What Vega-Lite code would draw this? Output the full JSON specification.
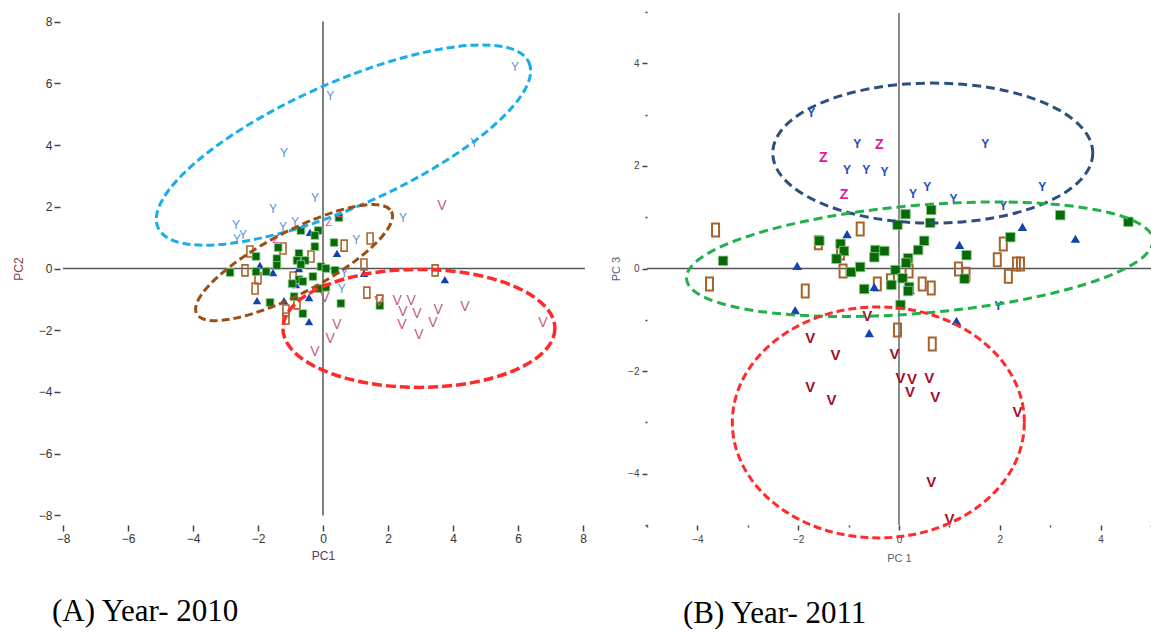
{
  "$schema": "https://vega.github.io/schema/vega-lite/v6.json",
  "padding": {"left": 12, "top": 7, "right": 0, "bottom": 0},
  "spacing": 23,
  "config": {
    "view": {"stroke": null},
    "font": "Liberation Sans",
    "axis": {"grid": false, "domain": false, "labelFont": "Liberation Sans", "titleFont": "Liberation Sans", "titleFontWeight": "normal", "labelFlush": false, "labelOverlap": false}
  },
  "datasets": {
    "aRuleV": [{"x": 0, "y": -8, "y2": 8}],
    "aRuleH": [{"y": 0, "x": -8, "x2": 8.06}],
    "aY": [{"x":5.91,"y":6.54},{"x":0.22,"y":5.60},{"x":4.65,"y":4.08},{"x":-1.20,"y":3.75},{"x":-0.25,"y":2.30},{"x":-1.54,"y":1.94},{"x":2.46,"y":1.65},{"x":-0.86,"y":1.52},{"x":-2.68,"y":1.42},{"x":-1.23,"y":1.36},{"x":-2.46,"y":1.10},{"x":-2.65,"y":0.94},{"x":1.02,"y":0.91},{"x":0.65,"y":-0.13},{"x":0.58,"y":-0.65}],
    "aV": [{"x":3.66,"y":2.04},{"x":0.06,"y":-0.97},{"x":0.43,"y":-1.84},{"x":0.22,"y":-2.30},{"x":-0.25,"y":-2.72},{"x":1.72,"y":-1.10},{"x":2.28,"y":-1.04},{"x":2.71,"y":-1.04},{"x":2.46,"y":-1.42},{"x":2.89,"y":-1.49},{"x":3.54,"y":-1.36},{"x":3.38,"y":-1.75},{"x":2.43,"y":-1.84},{"x":2.95,"y":-2.17},{"x":4.37,"y":-1.26},{"x":6.77,"y":-1.78}],
    "aZ": [{"x":0.18,"y":1.49},{"x":-1.45,"y":0.91},{"x":0.52,"y":1.75}],
    "aRect": [{"x":-2.25,"y":0.55},{"x":-1.23,"y":0.65},{"x":-0.37,"y":0.39},{"x":0.65,"y":0.74},{"x":1.45,"y":0.97},{"x":-2.40,"y":-0.06},{"x":-2.00,"y":-0.32},{"x":-2.09,"y":-0.65},{"x":-0.92,"y":-0.29},{"x":1.26,"y":0.13},{"x":1.35,"y":-0.78},{"x":1.75,"y":-1.04},{"x":-1.14,"y":-1.36},{"x":-1.14,"y":-1.62},{"x":-0.80,"y":-1.13},{"x":3.45,"y":-0.06}],
    "aSq": [{"x":0.49,"y":1.65},{"x":-0.15,"y":1.23},{"x":-0.25,"y":1.07},{"x":-0.68,"y":1.23},{"x":0.34,"y":0.84},{"x":-0.25,"y":0.71},{"x":-1.38,"y":0.68},{"x":-2.06,"y":0.39},{"x":-1.42,"y":0.32},{"x":-1.42,"y":0.10},{"x":-0.74,"y":0.49},{"x":-0.80,"y":0.26},{"x":-0.55,"y":0.26},{"x":-0.68,"y":0.13},{"x":-0.06,"y":0.06},{"x":0.09,"y":0.00},{"x":0.37,"y":-0.06},{"x":-2.86,"y":-0.13},{"x":-2.06,"y":-0.10},{"x":-1.75,"y":-0.10},{"x":-0.74,"y":-0.36},{"x":-0.62,"y":-0.42},{"x":-0.31,"y":-0.26},{"x":-0.12,"y":-0.65},{"x":0.09,"y":-0.61},{"x":-0.89,"y":-0.91},{"x":-1.63,"y":-1.10},{"x":0.55,"y":-1.13},{"x":-0.62,"y":-1.46},{"x":1.75,"y":-1.20},{"x":-0.95,"y":-0.49}],
    "aTri": [{"x":-0.40,"y":1.17},{"x":0.43,"y":0.49},{"x":-1.94,"y":0.10},{"x":-1.54,"y":-0.13},{"x":-0.74,"y":0.00},{"x":-2.03,"y":-1.04},{"x":-1.20,"y":-1.04},{"x":-0.43,"y":-0.94},{"x":-0.43,"y":-1.72},{"x":1.26,"y":-0.16},{"x":3.75,"y":-0.36},{"x":-0.83,"y":-0.52}],
    "aEllCyan": [{"x": 0.63, "y": 4.0}],
    "aEllBrown": [{"x": -0.89, "y": 0.19}],
    "aEllRed": [{"x": 2.95, "y": -1.94}],
    "bRuleV": [{"x": 0, "y": -5, "y2": 4.98}],
    "bRuleH": [{"y": 0, "x": -5, "x2": 5}],
    "bY": [{"x":-1.74,"y":3.03},{"x":-0.83,"y":2.43},{"x":1.71,"y":2.43},{"x":-1.03,"y":1.92},{"x":-0.65,"y":1.92},{"x":-0.29,"y":1.88},{"x":0.28,"y":1.45},{"x":0.56,"y":1.59},{"x":1.08,"y":1.36},{"x":2.84,"y":1.59},{"x":2.07,"y":1.22},{"x":1.97,"y":-0.73}],
    "bZ": [{"x":-1.50,"y":2.15},{"x":-0.39,"y":2.41},{"x":-1.09,"y":1.43}],
    "bV": [{"x":-0.63,"y":-0.93},{"x":-1.76,"y":-1.35},{"x":-1.26,"y":-1.69},{"x":-0.09,"y":-1.67},{"x":0.03,"y":-2.13},{"x":0.26,"y":-2.15},{"x":0.60,"y":-2.13},{"x":0.22,"y":-2.41},{"x":0.72,"y":-2.50},{"x":-1.76,"y":-2.31},{"x":-1.34,"y":-2.56},{"x":2.35,"y":-2.80},{"x":0.64,"y":-4.16},{"x":1.00,"y":-4.88}],
    "bRect": [{"x":-3.64,"y":0.75},{"x":-0.77,"y":0.77},{"x":-1.60,"y":0.50},{"x":-1.16,"y":0.30},{"x":-1.11,"y":-0.05},{"x":-3.76,"y":-0.30},{"x":-1.86,"y":-0.44},{"x":-0.43,"y":-0.30},{"x":-0.17,"y":-0.24},{"x":0.20,"y":-0.05},{"x":0.46,"y":-0.30},{"x":0.64,"y":-0.38},{"x":2.07,"y":0.48},{"x":1.95,"y":0.17},{"x":2.33,"y":0.09},{"x":2.41,"y":0.09},{"x":2.17,"y":-0.15},{"x":1.18,"y":-0.01},{"x":1.33,"y":-0.11},{"x":-0.03,"y":-1.20},{"x":0.66,"y":-1.47}],
    "bSq": [{"x":-3.49,"y":0.15},{"x":-1.58,"y":0.54},{"x":-1.16,"y":0.48},{"x":-1.09,"y":0.34},{"x":-1.24,"y":0.19},{"x":-0.95,"y":-0.07},{"x":-0.77,"y":0.03},{"x":-0.47,"y":0.36},{"x":-0.29,"y":0.34},{"x":-0.49,"y":0.22},{"x":-0.69,"y":-0.40},{"x":-0.15,"y":-0.32},{"x":-0.03,"y":0.85},{"x":0.13,"y":1.06},{"x":0.64,"y":1.14},{"x":0.62,"y":0.89},{"x":0.50,"y":0.54},{"x":0.38,"y":0.36},{"x":0.18,"y":0.20},{"x":0.14,"y":0.11},{"x":-0.07,"y":-0.03},{"x":0.07,"y":-0.19},{"x":0.20,"y":-0.36},{"x":0.18,"y":-0.44},{"x":0.03,"y":-0.71},{"x":1.34,"y":0.26},{"x":2.21,"y":0.61},{"x":3.20,"y":1.04},{"x":4.55,"y":0.91},{"x":1.30,"y":-0.20}],
    "bTri": [{"x":-1.03,"y":0.67},{"x":-2.02,"y":0.05},{"x":-0.49,"y":-0.36},{"x":-2.06,"y":-0.81},{"x":-0.59,"y":-1.26},{"x":1.20,"y":0.46},{"x":2.45,"y":0.81},{"x":3.50,"y":0.58},{"x":1.14,"y":-1.02},{"x":0.22,"y":-0.42}],
    "bEllNavy": [{"x": 0.67, "y": 2.25}],
    "bEllGreen": [{"x": 0.41, "y": 0.18}],
    "bEllRed": [{"x": -0.41, "y": -3.0}]
  },
  "hconcat": [
    {
      "width": 520,
      "height": 513,
      "title": {"text": "(A) Year- 2010", "orient": "bottom", "anchor": "start", "frame": "group", "font": "Liberation Serif", "fontSize": 31, "fontWeight": "normal", "color": "#000000", "offset": 36, "dx": -11},
      "encoding": {
        "x": {"field": "x", "type": "quantitative", "scale": {"domain": [-8, 8], "nice": false, "zero": false},
              "axis": {"values": [-8,-6,-4,-2,0,2,4,6,8], "title": "PC1", "tickSize": 6, "tickColor": "#444444", "tickWidth": 1.5, "labelFontSize": 12, "labelColor": "#333333", "labelPadding": 2, "titleColor": "#5b3a55", "titleFontSize": 12, "titlePadding": 6}},
        "y": {"field": "y", "type": "quantitative", "scale": {"domain": [-8.31, 8.31], "nice": false, "zero": false},
              "axis": {"values": [-8,-6,-4,-2,0,2,4,6,8], "title": "PC2", "offset": 3, "tickSize": 6, "tickColor": "#444444", "tickWidth": 1.5, "labelFontSize": 12, "labelColor": "#333333", "labelPadding": 2, "titleColor": "#8b3a4a", "titleFontSize": 12, "titlePadding": 13}}
      },
      "layer": [
        {"data": {"name": "aRuleV"}, "mark": {"type": "rule", "stroke": "#555555", "strokeWidth": 1.5}, "encoding": {"y2": {"field": "y2"}}},
        {"data": {"name": "aRuleH"}, "mark": {"type": "rule", "stroke": "#555555", "strokeWidth": 1.5}, "encoding": {"x2": {"field": "x2"}}},
        {"data": {"name": "aRect"}, "mark": {"type": "point", "shape": "M-3,-5.5H3V5.5H-3Z", "size": 4, "filled": false, "stroke": "#a8662e", "strokeWidth": 1.6, "opacity": 1}},
        {"data": {"name": "aTri"}, "mark": {"type": "point", "shape": "triangle-up", "size": 72, "filled": true, "fill": "#1440b0", "opacity": 1}},
        {"data": {"name": "aSq"}, "mark": {"type": "point", "shape": "square", "size": 60, "filled": true, "fill": "#076a07", "stroke": "#8cc98c", "strokeWidth": 0.8, "opacity": 1}},
        {"data": {"name": "aY"}, "mark": {"type": "text", "fontSize": 12, "color": "#5b8fd9", "baseline": "middle", "align": "center"}, "encoding": {"text": {"value": "Y"}}},
        {"data": {"name": "aV"}, "mark": {"type": "text", "fontSize": 14, "color": "#c26080", "baseline": "middle", "align": "center"}, "encoding": {"text": {"value": "V"}}},
        {"data": {"name": "aZ"}, "mark": {"type": "text", "fontSize": 11, "color": "#ee44b0", "baseline": "middle", "align": "center"}, "encoding": {"text": {"value": "Z"}}},
        {"data": {"name": "aEllCyan"}, "mark": {"type": "point", "shape": "M203,0C203,34.2 112.1,62 0,62C-112.1,62 -203,34.2 -203,0C-203,-34.2 -112.1,-62 0,-62C112.1,-62 203,-34.2 203,0Z", "size": 4, "angle": -24, "filled": false, "stroke": "#19aee8", "strokeWidth": 3, "strokeDash": [8, 4], "opacity": 1}},
        {"data": {"name": "aEllBrown"}, "mark": {"type": "point", "shape": "M110,0C110,17.1 60.8,31 0,31C-60.8,31 -110,17.1 -110,0C-110,-17.1 -60.8,-31 0,-31C60.8,-31 110,-17.1 110,0Z", "size": 4, "angle": -27.7, "filled": false, "stroke": "#9a4e12", "strokeWidth": 3, "strokeDash": [8, 4], "opacity": 1}},
        {"data": {"name": "aEllRed"}, "mark": {"type": "point", "shape": "M136,0C136,32.6 75.1,59 0,59C-75.1,59 -136,32.6 -136,0C-136,-32.6 -75.1,-59 0,-59C75.1,-59 136,-32.6 136,0Z", "size": 4, "angle": 0, "filled": false, "stroke": "#ff2a2a", "strokeWidth": 3.5, "strokeDash": [10, 4], "opacity": 1}}
      ]
    },
    {
      "width": 504,
      "height": 513,
      "title": {"text": "(B) Year- 2011", "orient": "bottom", "anchor": "start", "frame": "group", "font": "Liberation Serif", "fontSize": 31, "fontWeight": "normal", "color": "#000000", "offset": 36, "dx": 36},
      "encoding": {
        "x": {"field": "x", "type": "quantitative", "scale": {"domain": [-5, 5], "nice": false, "zero": false},
              "axis": {"values": [-5,-4,-3,-2,-1,0,1,2,3,4,5], "labelExpr": "datum.value % 2 === 0 ? datum.label : ''", "title": "PC 1", "tickSize": {"condition": {"test": "datum.value % 2 === 0", "value": 5}, "value": 2}, "tickColor": "#444444", "tickWidth": 1.5, "labelFontSize": 10, "labelColor": "#444444", "labelPadding": 4, "titleColor": "#556070", "titleFontSize": 11, "titlePadding": 8}},
        "y": {"field": "y", "type": "quantitative", "scale": {"domain": [-5, 5], "nice": false, "zero": false},
              "axis": {"values": [-5,-4,-3,-2,-1,0,1,2,3,4,5], "labelExpr": "datum.value % 2 === 0 ? datum.label : ''", "title": "PC 3", "tickSize": {"condition": {"test": "datum.value % 2 === 0", "value": 5}, "value": 2}, "tickColor": "#444444", "tickWidth": 1.5, "labelFontSize": 10, "labelColor": "#444444", "labelPadding": 3, "titleColor": "#556070", "titleFontSize": 11, "titlePadding": 6}}
      },
      "layer": [
        {"data": {"name": "bRuleV"}, "mark": {"type": "rule", "stroke": "#666666", "strokeWidth": 1.5}, "encoding": {"y2": {"field": "y2"}}},
        {"data": {"name": "bRuleH"}, "mark": {"type": "rule", "stroke": "#555555", "strokeWidth": 1.5}, "encoding": {"x2": {"field": "x2"}}},
        {"data": {"name": "bRect"}, "mark": {"type": "point", "shape": "M-3.5,-6.5H3.5V6.5H-3.5Z", "size": 4, "filled": false, "stroke": "#a8622a", "strokeWidth": 2, "opacity": 1}},
        {"data": {"name": "bTri"}, "mark": {"type": "point", "shape": "triangle-up", "size": 90, "filled": true, "fill": "#1244b0", "opacity": 1}},
        {"data": {"name": "bSq"}, "mark": {"type": "point", "shape": "square", "size": 90, "filled": true, "fill": "#076a07", "stroke": "#8cc98c", "strokeWidth": 0.8, "opacity": 1}},
        {"data": {"name": "bY"}, "mark": {"type": "text", "fontSize": 12, "fontWeight": "bold", "color": "#1d4fc4", "baseline": "middle", "align": "center"}, "encoding": {"text": {"value": "Y"}}},
        {"data": {"name": "bZ"}, "mark": {"type": "text", "fontSize": 14, "fontWeight": "bold", "color": "#e0189a", "baseline": "middle", "align": "center"}, "encoding": {"text": {"value": "Z"}}},
        {"data": {"name": "bV"}, "mark": {"type": "text", "fontSize": 15, "fontWeight": "bold", "color": "#a0102e", "baseline": "middle", "align": "center"}, "encoding": {"text": {"value": "V"}}},
        {"data": {"name": "bEllNavy"}, "mark": {"type": "point", "shape": "M160,0C160,38.7 88.4,70 0,70C-88.4,70 -160,38.7 -160,0C-160,-38.7 -88.4,-70 0,-70C88.4,-70 160,-38.7 160,0Z", "size": 4, "angle": 0, "filled": false, "stroke": "#2c4f80", "strokeWidth": 3, "strokeDash": [9, 5], "opacity": 1}},
        {"data": {"name": "bEllGreen"}, "mark": {"type": "point", "shape": "M234,0C234,29.8 129.2,54 0,54C-129.2,54 -234,29.8 -234,0C-234,-29.8 -129.2,-54 0,-54C129.2,-54 234,-29.8 234,0Z", "size": 4, "angle": -4.8, "filled": false, "stroke": "#22b04a", "strokeWidth": 3, "strokeDash": [9, 5], "opacity": 1}},
        {"data": {"name": "bEllRed"}, "mark": {"type": "point", "shape": "M146,0C146,63.8 80.6,115.5 0,115.5C-80.6,115.5 -146,63.8 -146,0C-146,-63.8 -80.6,-115.5 0,-115.5C80.6,-115.5 146,-63.8 146,0Z", "size": 4, "angle": 0, "filled": false, "stroke": "#ff2a2a", "strokeWidth": 3, "strokeDash": [8, 4], "opacity": 1}}
      ]
    }
  ]
}
